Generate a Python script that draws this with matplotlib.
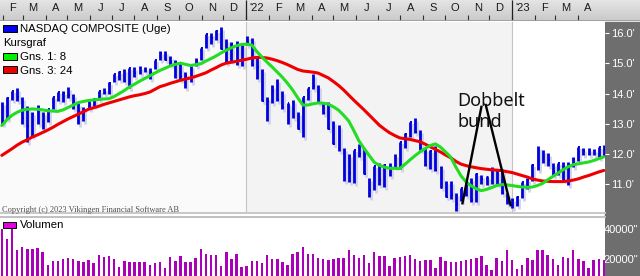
import numpy as np
import pandas as pd
import matplotlib
matplotlib.use('Agg')
import matplotlib.pyplot as plt
import matplotlib.dates as mdates
import matplotlib.transforms as mtransforms
from matplotlib.patches import Rectangle

# weekly NASDAQ Composite, values in thousands (as on the axis: 16.0')
weeks = pd.date_range('2021-01-29', periods=119, freq='W-FRI')

high = [13.73, 13.88, 14.10, 14.18, 13.90, 13.60, 13.40, 13.62, 13.38, 13.50,
        13.90, 14.06, 14.10, 14.21, 13.98, 13.70, 13.55, 13.76, 13.84, 14.07,
        14.20, 14.38, 14.64, 14.75, 14.80, 14.86, 14.88, 14.90, 14.88, 14.85,
        15.13, 15.40, 15.40, 15.25, 15.10, 15.00, 14.70, 14.90, 15.18, 15.50,
        15.98, 16.02, 16.10, 16.21, 15.80, 15.70, 15.75, 15.65, 15.90, 15.83,
        15.20, 14.80, 13.90, 14.30, 14.50, 14.10, 13.70, 13.80, 13.40, 13.90,
        14.20, 14.65, 14.30, 13.70, 13.73, 13.10, 12.95, 12.20, 12.00, 12.13,
        12.32, 12.20, 11.20, 11.61, 11.70, 11.65, 11.70, 12.00, 12.40, 12.70,
        13.05, 13.18, 12.80, 12.20, 12.12, 12.27, 11.60, 11.10, 11.10, 10.70,
        10.88, 11.10, 11.20, 11.35, 11.30, 11.25, 11.55, 11.45, 11.50, 10.70,
        10.55, 10.60, 11.08, 11.20, 11.65, 12.27, 12.12, 12.04, 11.70, 11.70,
        11.73, 11.72, 11.90, 12.22, 12.20, 12.20, 12.15, 12.23, 12.28]
low = [12.98, 13.15, 13.80, 13.76, 13.00, 12.40, 12.60, 13.00, 12.82, 13.05,
       13.50, 13.75, 13.73, 13.85, 13.48, 13.00, 13.10, 13.50, 13.60, 13.78,
       13.97, 14.00, 14.38, 14.45, 14.40, 14.20, 14.55, 14.65, 14.70, 14.50,
       14.80, 15.10, 15.10, 14.95, 14.53, 14.45, 14.18, 14.40, 14.90, 15.10,
       15.50, 15.65, 15.78, 15.49, 15.02, 15.08, 14.95, 14.90, 15.60, 14.90,
       14.50, 13.77, 13.10, 13.70, 13.76, 13.50, 13.00, 13.20, 12.83, 12.56,
       13.80, 14.15, 13.70, 13.33, 12.83, 12.33, 12.10, 11.11, 11.07, 11.04,
       11.90, 11.34, 10.57, 10.80, 10.97, 10.90, 11.25, 11.55, 11.50, 12.20,
       12.55, 12.70, 12.14, 11.60, 11.50, 11.42, 10.87, 10.57, 10.50, 10.09,
       10.44, 10.60, 10.40, 10.40, 11.00, 10.98, 11.00, 10.99, 10.67, 10.35,
       10.21, 10.26, 10.55, 10.85, 11.10, 11.45, 11.70, 11.60, 11.28, 11.30,
       11.14, 10.98, 11.55, 11.75, 11.95, 11.95, 11.95, 11.85, 11.93]
close = [13.07, 13.86, 14.10, 13.87, 13.19, 12.92, 13.32, 13.22, 13.14, 13.48,
         13.90, 14.05, 14.02, 13.96, 13.75, 13.43, 13.47, 13.75, 13.81, 14.07,
         14.03, 14.36, 14.64, 14.70, 14.43, 14.84, 14.67, 14.84, 14.82, 14.71,
         15.13, 15.36, 15.12, 15.04, 15.05, 14.57, 14.58, 14.90, 15.09, 15.50,
         15.97, 15.86, 16.06, 15.49, 15.09, 15.63, 15.17, 15.65, 15.64, 14.94,
         14.89, 13.77, 13.77, 14.10, 13.79, 13.55, 13.69, 13.31, 12.84, 13.89,
         14.17, 14.26, 13.71, 13.35, 12.84, 12.33, 12.14, 11.81, 11.35, 12.13,
         12.01, 11.34, 10.80, 11.61, 11.13, 11.64, 11.45, 11.83, 12.39, 12.66,
         13.05, 12.71, 12.14, 11.63, 12.11, 11.45, 10.87, 10.58, 10.65, 10.32,
         10.86, 11.10, 10.48, 11.32, 11.15, 11.23, 11.46, 11.00, 10.71, 10.50,
         10.47, 10.57, 11.08, 11.14, 11.62, 12.01, 11.72, 11.79, 11.39, 11.69,
         11.14, 11.63, 11.82, 12.22, 12.09, 12.12, 12.07, 12.23, 12.24]

# moving averages
gns8 = [12.94, 13.13, 13.28, 13.38, 13.45, 13.48, 13.49, 13.48, 13.46, 13.43,
        13.42, 13.41, 13.46, 13.54, 13.62, 13.70, 13.74, 13.77, 13.79, 13.81,
        13.82, 13.83, 13.90, 14.00, 14.10, 14.22, 14.31, 14.41, 14.50, 14.59,
        14.68, 14.77, 14.84, 14.92, 14.97, 15.01, 14.97, 14.93, 14.96, 14.99,
        15.08, 15.16, 15.25, 15.35, 15.44, 15.52, 15.59, 15.63, 15.64, 15.61,
        15.39, 15.21, 15.04, 14.88, 14.71, 14.54, 14.34, 14.12, 13.86, 13.62,
        13.62, 13.66, 13.69, 13.68, 13.65, 13.56, 13.45, 13.28, 13.09, 12.77,
        12.43, 12.18, 11.95, 11.72, 11.62, 11.56, 11.52, 11.52, 11.51, 11.65,
        11.80, 11.94, 12.07, 12.18, 12.28, 12.33, 12.22, 12.06, 11.89, 11.56,
        11.27, 11.07, 10.94, 10.84, 10.78, 10.82, 10.88, 10.95, 10.98, 10.97,
        10.95, 10.92, 10.90, 10.89, 10.90, 10.95, 11.02, 11.14, 11.25, 11.36,
        11.47, 11.57, 11.64, 11.67, 11.70, 11.73, 11.78, 11.84, 11.90]
gns24 = [11.95, 12.06, 12.17, 12.29, 12.39, 12.47, 12.56, 12.63, 12.71, 12.79,
         12.88, 12.98, 13.07, 13.16, 13.24, 13.32, 13.40, 13.48, 13.53, 13.58,
         13.64, 13.69, 13.74, 13.79, 13.84, 13.89, 13.93, 13.96, 14.00, 14.05,
         14.14, 14.23, 14.28, 14.34, 14.39, 14.44, 14.48, 14.52, 14.57, 14.63,
         14.69, 14.78, 14.86, 14.95, 15.01, 15.04, 15.07, 15.11, 15.14, 15.18,
         15.20, 15.20, 15.18, 15.14, 15.09, 15.03, 14.96, 14.88, 14.80, 14.75,
         14.73, 14.71, 14.68, 14.60, 14.52, 14.40, 14.27, 14.12, 13.95, 13.78,
         13.62, 13.46, 13.29, 13.12, 12.95, 12.82, 12.70, 12.61, 12.53, 12.50,
         12.48, 12.44, 12.40, 12.32, 12.23, 12.15, 12.06, 11.96, 11.87, 11.75,
         11.66, 11.61, 11.57, 11.54, 11.51, 11.49, 11.47, 11.46, 11.44, 11.41,
         11.38, 11.33, 11.28, 11.23, 11.17, 11.13, 11.10, 11.09, 11.08, 11.08,
         11.08, 11.10, 11.13, 11.17, 11.23, 11.28, 11.34, 11.40, 11.45]

volume = [40200, 33300, 44000, 26100, 28300, 26700, 26700, 27600, 24900, 16000,
          18700, 18700, 19800, 20900, 20000, 18700, 18200, 19300, 17100, 22700,
          21500, 22200, 20000, 14800, 18700, 18200, 18200, 18200, 18200, 16000,
          17500, 17800, 14100, 21100, 18700, 22000, 18200, 18000, 20500, 26500,
          23400, 22700, 22700, 15300, 24700, 19800, 23400, 14400, 15300, 18900,
          18700, 17500, 22700, 20000, 20000, 18200, 15700, 23400, 24900, 27900,
          23400, 23400, 20500, 19800, 19300, 20000, 20500, 20900, 26100, 22700,
          20500, 22700, 17100, 24500, 22200, 22000, 15300, 20500, 21100, 22000,
          22700, 19800, 18700, 19300, 19300, 13700, 21500, 18900, 18200, 18200,
          18700, 19300, 20000, 20500, 22000, 16000, 12600, 20500, 18700, 26100,
          19300, 13000, 16000, 20900, 19300, 26100, 26100, 22700, 20000, 16000,
          21500, 20500, 26100, 19800, 18900, 13700, 19500, 19800, 19300]

month_labels = ['F', 'M', 'A', 'M', 'J', 'J', 'A', 'S', 'O', 'N', 'D', "'22",
                'F', 'M', 'A', 'M', 'J', 'J', 'A', 'S', 'O', 'N', 'D', "'23",
                'F', 'M', 'A']
months = pd.date_range('2021-02-01', periods=len(month_labels), freq='MS')
year_starts = pd.to_datetime(['2022-01-01', '2023-01-01'])
price_ticks = [11, 12, 13, 14, 15, 16]
vol_ticks = [20000, 40000]

# double bottom sketch: two strokes and the label
dobbelt_left = (pd.to_datetime(['2022-10-25', '2022-11-20']), [10.36, 13.56])
dobbelt_right = (pd.to_datetime(['2022-11-26', '2022-12-30']), [13.62, 10.30])
dobbelt_text = (pd.Timestamp('2022-10-18'), 14.06, 'Dobbelt\nbund')

BLUE = '#0000dd'
GREEN = '#22dd22'
RED = '#ee0000'
MAGENTA = '#aa00b8'

W, H = 640, 276
fig = plt.figure(figsize=(W / 100, H / 100), dpi=100)
fig.patch.set_facecolor('white')


def box(x0, y0, x1, y1):
    # pixel box measured from the top-left corner -> figure fraction
    return [x0 / W, 1 - y1 / H, (x1 - x0) / W, (y1 - y0) / H]


x_left = mdates.date2num(pd.Timestamp('2021-01-28 12:00'))
x_right = mdates.date2num(pd.Timestamp('2023-05-08 14:00'))
xb = mdates.date2num(weeks) + 2  # bars sit at the end of the week
ys = mdates.date2num(year_starts)

# --- price panel ---
ax = fig.add_axes(box(0, 22, 605, 212))
ax.set_xlim(x_left, x_right)
ax.set_ylim(10.071, 16.375)
ax.axvspan(x_left, ys[0], color='#fafafa', lw=0, zorder=0)
ax.axvspan(ys[0], ys[1], color='#f3f3f3', lw=0, zorder=0)
for y in ys:
    ax.axvline(y, color='#c4c4c4', lw=0.8, zorder=1)

shadow = mtransforms.offset_copy(ax.transData, fig=fig, x=2, y=-3, units='dots')
ax.vlines(xb, low, high, color='#d2d2ea', lw=2.0, transform=shadow, zorder=2)
ax.hlines(close, xb, xb + 2.5, color='#d2d2ea', lw=1.4, transform=shadow, zorder=2)
ax.vlines(xb, low, high, color=BLUE, lw=2.0, zorder=3)
ax.hlines(close, xb, xb + 2.5, color=BLUE, lw=1.4, zorder=3)

ax.plot(xb, gns24, color=RED, lw=2.2, zorder=4, solid_capstyle='round')
ax.plot(xb, gns8, color=GREEN, lw=2.2, zorder=5, solid_capstyle='round')

ax.plot(mdates.date2num(dobbelt_left[0]), dobbelt_left[1], color='black', lw=1.7, zorder=6)
ax.plot(mdates.date2num(dobbelt_right[0]), dobbelt_right[1], color='black', lw=1.7, zorder=6)
ax.text(mdates.date2num(dobbelt_text[0]), dobbelt_text[1], dobbelt_text[2],
        ha='left', va='top', fontsize=13, family='Noto Sans', linespacing=1.2,
        color='#111111', zorder=7)

ax.set_xticks([])
ax.yaxis.tick_right()
ax.set_yticks(price_ticks)
ax.set_yticklabels([f"{t:.1f}'" for t in price_ticks])
ax.tick_params(axis='y', direction='out', length=3, width=0.8, color='white',
               labelcolor='white', labelsize=8, pad=1.5)
for lab in ax.get_yticklabels():
    lab.set_family('Liberation Sans')
for s in ax.spines.values():
    s.set_visible(False)

# --- volume panel ---
axv = fig.add_axes(box(0, 218, 605, 276))
axv.set_xlim(x_left, x_right)
axv.set_ylim(8550, 47600)
axv.bar(xb, volume, width=3.4, color=MAGENTA, zorder=2)
axv.set_xticks([])
axv.yaxis.tick_right()
axv.set_yticks(vol_ticks)
axv.set_yticklabels([f'{v}"' for v in vol_ticks])
axv.tick_params(axis='y', length=0, labelcolor='white', labelsize=8, pad=-1)
for lab in axv.get_yticklabels():
    lab.set_family('Liberation Sans')
for s in axv.spines.values():
    s.set_visible(False)

# --- month strip ---
axm = fig.add_axes(box(0, 0, 640, 21))
axm.set_xlim(x_left, x_left + (x_right - x_left) * 640 / 605)
axm.set_ylim(21, 0)
grad = np.linspace(0, 1, 21).reshape(-1, 1)
axm.imshow(grad, extent=[*axm.get_xlim(), 21, 0], aspect='auto',
           cmap=matplotlib.colors.LinearSegmentedColormap.from_list('g', ['#e4e4e4', '#cacaca']),
           zorder=0)
mx = mdates.date2num(months)
for x, lab in zip(mx + 14, month_labels):
    axm.text(x, 8, lab, ha='center', va='center', fontsize=8,
             family='Liberation Sans', color='#1a1a1a')
axm.vlines(mx, 15, 20, color='#303030', lw=0.8)
axm.vlines(ys, 0, 20, color='#202020', lw=0.9)
axm.axhline(20.5, color='#9a9a9a', lw=1.2)
axm.set_axis_off()

# dark value column and panel separators
fig.patches.append(Rectangle((605 / W, 0), 35 / W, 254 / H, transform=fig.transFigure,
                             color='#6e6e6e', zorder=-1))
for yy, c in [(212.5, '#c8c8c8'), (217, '#c0c0c0')]:
    fig.add_artist(plt.Line2D([0, 605 / W], [1 - yy / H] * 2, color=c, lw=1.4))

# legends
def legend_box(x0, y0, x1, y1, c):
    fig.patches.append(Rectangle((x0 / W, 1 - y1 / H), (x1 - x0) / W, (y1 - y0) / H,
                                 transform=fig.transFigure, facecolor=c,
                                 edgecolor='black', lw=0.7, zorder=5))

legend_box(3, 25, 17, 32, '#0000ee')
legend_box(3, 53, 17, 60, '#00ee00')
legend_box(3, 66, 17, 73, '#ee0000')
legend_box(3, 222, 16, 228, '#e000e0')
for txt, x, y in [('NASDAQ COMPOSITE (Uge)', 20, 28.5), ('Kursgraf', 3, 43),
                  ('Gns. 1: 8', 20, 57), ('Gns. 3: 24', 20, 70.5), ('Volumen', 20, 225.5)]:
    fig.text(x / W, 1 - y / H, txt, ha='left', va='center', fontsize=8.2,
             family='Liberation Sans', color='black', zorder=6)

fig.text(2 / W, 1 - 209.5 / H, 'Copyright (c) 2023 Vikingen Financial Software AB',
         ha='left', va='center', fontsize=6, family='Liberation Serif', color='#505050')

fig.savefig('out.png', dpi=100, facecolor=fig.get_facecolor())
